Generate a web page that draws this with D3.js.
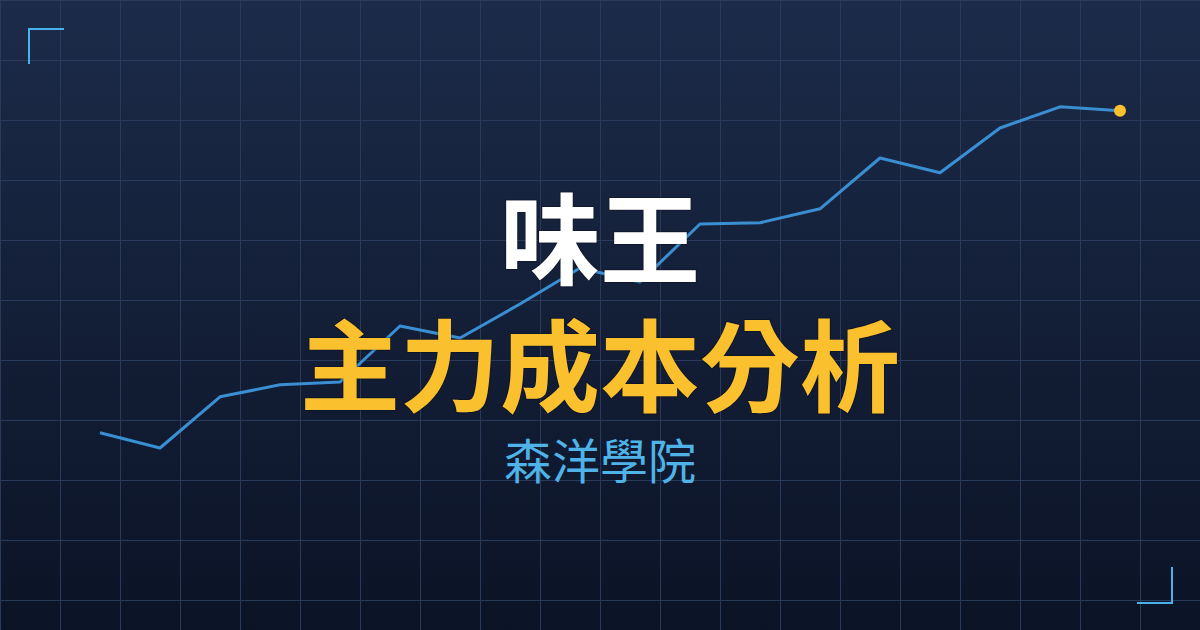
<!DOCTYPE html>
<html>
<head>
<meta charset="utf-8">
<script src="https://cdn.jsdelivr.net/npm/d3@7"></script>
<style>
  html, body { margin: 0; padding: 0; background: #0c1428; }
  svg { display: block; }
</style>
</head>
<body>
<div id="chart"></div>
<script>
// price path, one point per grid column
const days = d3.range(18)
const cost = [11.8, 8.0, 20.8, 23.8, 24.5, 38.5, 35.5, 44.0, 53.0, 49.5, 64.0, 64.3, 67.8, 80.5, 76.8, 88.0, 93.3, 92.3]

const stockName = '味王'
const title = '主力成本分析'
const brand = '森洋學院'

const W = 1200, H = 630

const svg = d3.select('#chart').append('svg')
  .attr('width', W)
  .attr('height', H)

// background
const defs = svg.append('defs')
const grad = defs.append('linearGradient')
  .attr('id', 'bg')
  .attr('x1', 0).attr('y1', 0)
  .attr('x2', 0).attr('y2', 1)
grad.append('stop').attr('offset', '0%').attr('stop-color', '#1c2b49')
grad.append('stop').attr('offset', '100%').attr('stop-color', '#0b1326')

svg.append('rect')
  .attr('width', W)
  .attr('height', H)
  .attr('fill', 'url(#bg)')

// grid
const grid = svg.append('g')
  .attr('stroke', '#2a3a5a')
  .attr('stroke-width', 1)

grid.selectAll('.v')
  .data(d3.range(0, W + 1, 60))
  .enter().append('line')
  .attr('x1', d => d + 0.5).attr('x2', d => d + 0.5)
  .attr('y1', 0).attr('y2', H)

grid.selectAll('.h')
  .data(d3.range(0, H + 1, 60))
  .enter().append('line')
  .attr('y1', d => d + 0.5).attr('y2', d => d + 0.5)
  .attr('x1', 0).attr('x2', W)

// corner brackets
const corners = svg.append('g')
  .attr('fill', 'none')
  .attr('stroke', '#4ab2ea')
  .attr('stroke-width', 2)
corners.append('path').attr('d', 'M29,64V29H64')
corners.append('path').attr('d', 'M1172,567V603H1137')

// line
const x = d3.scaleLinear().domain([0, 17]).range([100, 1120])
const y = d3.scaleLinear().domain([0, 100]).range([480, 80])

const line = d3.line()
  .x((d, i) => x(days[i]))
  .y(d => y(d))

svg.append('path')
  .datum(cost)
  .attr('d', line)
  .attr('fill', 'none')
  .attr('stroke', '#3a8fd3')
  .attr('stroke-width', 3)
  .attr('stroke-linejoin', 'round')

svg.append('circle')
  .attr('cx', x(days[days.length - 1]))
  .attr('cy', y(cost[cost.length - 1]))
  .attr('r', 6)
  .attr('fill', '#fbc02d')

// titles
const font = '"Noto Sans CJK TC", "Noto Sans CJK SC", sans-serif'

svg.append('text')
  .attr('x', 600).attr('y', 277)
  .attr('text-anchor', 'middle')
  .attr('font-family', font)
  .attr('font-weight', 700)
  .attr('font-size', 100)
  .attr('fill', '#ffffff')
  .style('paint-order', 'stroke')
  .attr('stroke', 'rgba(0,0,0,0.25)')
  .attr('stroke-width', 2)
  .text(stockName)

svg.append('text')
  .attr('x', 600).attr('y', 404)
  .attr('text-anchor', 'middle')
  .attr('font-family', font)
  .attr('font-weight', 700)
  .attr('font-size', 100)
  .attr('fill', '#fbc02d')
  .style('paint-order', 'stroke')
  .attr('stroke', 'rgba(0,0,0,0.25)')
  .attr('stroke-width', 2)
  .text(title)

svg.append('text')
  .attr('x', 600).attr('y', 479)
  .attr('text-anchor', 'middle')
  .attr('font-family', font)
  .attr('font-weight', 400)
  .attr('font-size', 48)
  .attr('fill', '#4fb3e8')
  .text(brand)
</script>
</body>
</html>
